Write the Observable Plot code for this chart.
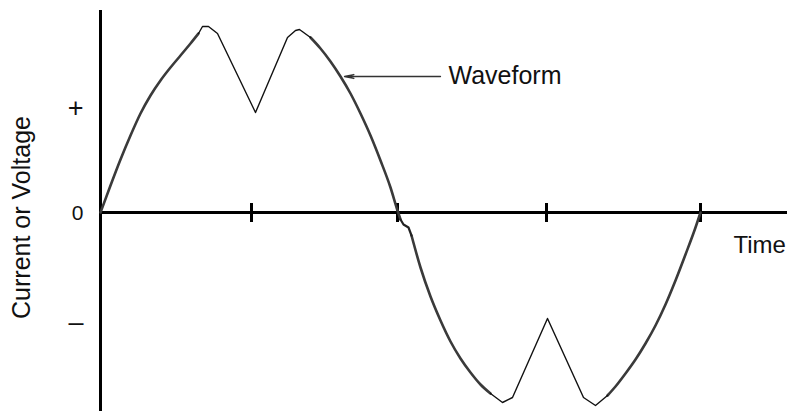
<!DOCTYPE html>
<html>
<head>
<meta charset="utf-8">
<script src="https://cdn.jsdelivr.net/npm/d3@7"></script>
<script src="https://cdn.jsdelivr.net/npm/@observablehq/plot@0.6"></script>
<style>
  html, body { margin: 0; padding: 0; background: #fff; }
  #chart svg { display: block; }
</style>
</head>
<body>
<div id="chart"></div>
<script>
// Waveform (time units, value units; zero crossing at time 0)
const smooth1Time  = [0, 10, 20, 30, 40, 50, 60, 70, 80, 90, 98];
const smooth1Value = [0, 27, 53, 77, 99, 117, 132, 145, 157, 169, 179];
const notch1Time   = [98, 102, 108, 117, 155, 187, 195, 199, 210];
const notch1Value  = [179, 186, 186, 179, 100, 175, 182, 183, 175];
const smooth2Time  = [210, 220, 230, 240, 250, 260, 270, 280, 290, 297, 300];
const smooth2Value = [175, 164, 151, 136, 119, 99, 77, 52, 25, 2, -7];
const glitchTime   = [300, 303, 308, 311];
const glitchValue  = [-7, -12, -15, -23];
const smooth3Time  = [311, 320, 330, 340, 350, 360, 370, 380, 390];
const smooth3Value = [-23, -55, -84, -108, -129, -146, -160, -172, -181];
const notch2Time   = [390, 402, 412, 447, 483, 495, 507];
const notch2Value  = [-181, -190, -185, -106, -185, -193, -183];
const smooth4Time  = [507, 515, 525, 535, 545, 555, 565, 575, 585, 595, 600];
const smooth4Value = [-183, -174, -161, -147, -131, -113, -92, -68, -42, -15, 0];

const timeTicks   = [151, 297, 446, 600];
const valueTicks  = [104, -1, -110];
const valueTickLabels = ["+", "0", "–"];

const yTitle = "Current or Voltage";
const xTitle = "Time";
const waveLabel = "Waveform";

const zip = (t, v) => t.map((d, i) => ({t: d, v: v[i]}));
const smoothParts = [zip(smooth1Time, smooth1Value), zip(smooth2Time, smooth2Value),
                     zip(smooth3Time, smooth3Value), zip(smooth4Time, smooth4Value)];
const thinParts   = [zip(notch1Time, notch1Value), zip(notch2Time, notch2Value)];
const glitch      = zip(glitchTime, glitchValue);
const tickLabelRows = valueTicks.map((v, i) => ({v, label: valueTickLabels[i]}));

const font = "Arial, 'Liberation Sans', Helvetica, sans-serif";

const marks = [
  // axes lines
  Plot.ruleY([0], {x1: 0, x2: 687, stroke: "#000", strokeWidth: 3}),
  Plot.ruleX([0], {y1: -199, y2: 202, stroke: "#000", strokeWidth: 3}),
  Plot.ruleX(timeTicks, {y1: -10, y2: 9, stroke: "#000", strokeWidth: 3}),
  Plot.text(tickLabelRows, {x: 0, y: "v", text: "label", dx: -17, textAnchor: "end",
    fontSize: (d) => d.label === "0" ? 21 : 27, fill: "#111"}),
  ...smoothParts.map(p => Plot.line(p, {x: "t", y: "v", curve: "monotone-x", stroke: "#3a3a3a", strokeWidth: 2.6})),
  Plot.line(glitch, {x: "t", y: "v", stroke: "#222", strokeWidth: 2.2}),
  ...thinParts.map(p => Plot.line(p, {x: "t", y: "v", stroke: "#111", strokeWidth: 1.4})),
  Plot.arrow([{x1: 340, y1: 136, x2: 244, y2: 136}], {
    x1: "x1", y1: "y1", x2: "x2", y2: "y2",
    stroke: "#333", strokeWidth: 1.3, headLength: 11, headAngle: 24
  }),
  Plot.text([waveLabel], {x: 348, y: 137, text: d => d, textAnchor: "start", fontSize: 25, fill: "#111"}),
  Plot.text([xTitle], {x: 633, y: -33, text: d => d, textAnchor: "start", fontSize: 24, fill: "#111"}),
  Plot.text([yTitle], {x: 0, y: -5, dx: -79, rotate: -90, text: d => d, fontSize: 25, fill: "#111"})
];

const chart = Plot.plot({
  width: 787,
  height: 411,
  marginLeft: 100,
  marginRight: 0,
  marginTop: 0,
  marginBottom: 0,
  style: {fontFamily: font, background: "#fff", overflow: "visible"},
  x: {domain: [0, 687], axis: null},
  y: {domain: [-199, 212], axis: null},
  marks
});
document.getElementById("chart").appendChild(chart);
</script>
</body>
</html>
